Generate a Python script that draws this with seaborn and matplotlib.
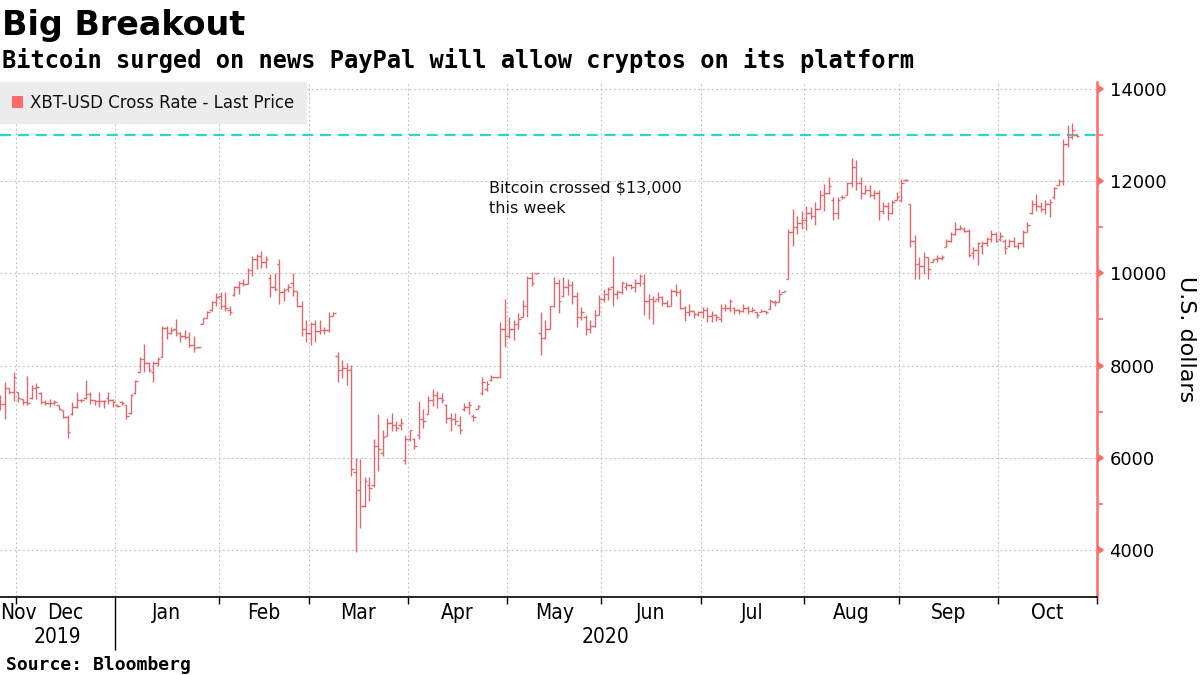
import numpy as np
import pandas as pd
import matplotlib.pyplot as plt
import seaborn as sns
from matplotlib.patches import Patch
from matplotlib.transforms import blended_transform_factory

# XBT-USD weekday bars (open / high / low / close), 2019-11-26 .. 2020-10-26
opens = [
    7150, 7170, 7520, 7430,  # Nov
    7420, 7280, 7200, 7300, 7520, 7400, 7200, 7180, 7190, 7140, 7030, 6880, 6950, 7100, 7250, 7300, 7380, 7250, 7230, 7230, 7300, 7250,  # Dec
    7150, 7200, 7140, 6960, 7400, 7870, 8150, 8050, 7850, 8050, 8180, 8820, 8700, 8800, 8700, 8640, 8620, 8450, 8400, 8910, 9040, 9200, 9380,  # Jan
    9500, 9300, 9200, 9520, 9700, 9780, 9760, 10080, 10300, 10380, 10250, 9900, 9700, 10200, 9600, 9650, 9800, 9620, 9300, 8800,  # Feb
    8700, 8900, 8750, 8760, 8780, 9080, 8200, 7900, 7950, 7900, 5700, 5300, 4950, 5400, 5400, 6250, 6100, 6480, 6750, 6700, 6700, 5950,  # Mar
    6400, 6400, 6500, 6850, 6950, 7250, 7350, 7300, 7150, 6870, 6850, 6700, 7050, 7100, 6900, 7050, 7400, 7500, 7680, 7740, 7750, 8800,  # Apr
    8650, 8800, 8900, 9050, 9300, 9900, 10000, 8700, 8600, 8800, 9300, 9800, 9500, 9700, 9750, 9500, 9050, 9050, 8800, 8850, 9100,  # May
    9450, 9550, 9700, 9550, 9600, 9700, 9750, 9700, 9800, 9800, 9400, 9450, 9450, 9480, 9350, 9300, 9620, 9600, 9250, 9150, 9180, 9120,  # Jun
    9150, 9200, 9080, 9100, 9000, 9250, 9250, 9250, 9200, 9180, 9250, 9180, 9150, 9150, 9180, 9220, 9380, 9380, 9600, 9880, 10900, 11000, 11100,  # Jul
    11150, 11300, 11250, 11400, 11700, 11750, 11600, 11300, 11650, 11700, 11950, 12300, 11950, 11750, 11800, 11700, 11750, 11350, 11450, 11300, 11600,  # Aug
    11600, 12020, 11500, 10700, 10200, 10150, 10350, 10250, 10300, 10330, 10570, 10700, 10850, 10950, 10950, 10920, 10450, 10500, 10600, 10650, 10750, 10850,  # Sep
    10750, 10700, 10600, 10700, 10600, 10650, 10900, 11300, 11500, 11450, 11400, 11500, 11650, 11920, 12000, 12800, 12950, 13000,  # Oct
]
highs = [
    7350, 7640, 7520, 7870,
    7430, 7280, 7770, 7570, 7630, 7430, 7250, 7280, 7250, 7140, 7030, 6920, 7210, 7430, 7280, 7680, 7430, 7250, 7430, 7250, 7430, 7280,
    7170, 7240, 7140, 7390, 7680, 8180, 8470, 8070, 8100, 8180, 8860, 8860, 8830, 9010, 8720, 8760, 8720, 8650, 8410, 9040, 9190, 9400, 9570,
    9585, 9600, 9300, 9730, 9835, 9870, 10120, 10370, 10410, 10480, 10370, 9980, 10010, 10300, 9690, 9760, 10010, 9620, 9400, 8980,
    8940, 8980, 8980, 8830, 9150, 9150, 8300, 8120, 8050, 8010, 6000, 5970, 5580, 5580, 6400, 6940, 6610, 6860, 6970, 6790, 6860, 6500,
    6610, 6430, 7240, 7050, 7330, 7480, 7440, 7400, 7170, 6970, 6970, 6900, 7190, 7230, 6940, 7150, 7760, 7660, 7800, 7760, 8950, 9450,
    9050, 8980, 9130, 9410, 9950, 10020, 10010, 9160, 8980, 9300, 9910, 9870, 9910, 9870, 9840, 9590, 9270, 9090, 8980, 9200, 9520,
    9660, 9700, 10380, 9630, 9840, 9810, 9770, 9880, 9990, 9990, 9550, 9510, 9590, 9510, 9410, 9660, 9770, 9660, 9300, 9330, 9190, 9190,
    9260, 9260, 9190, 9120, 9330, 9330, 9440, 9260, 9220, 9330, 9300, 9260, 9150, 9220, 9190, 9440, 9410, 9660, 9620, 10960, 11400, 11250, 11360,
    11470, 11430, 11540, 11800, 11940, 12090, 11650, 11650, 11690, 11980, 12490, 12450, 12090, 11910, 11910, 11800, 11800, 11540, 11540, 11580, 11760,
    12050, 12050, 11510, 10820, 10350, 10460, 10350, 10310, 10390, 10390, 10750, 10890, 11110, 11040, 11000, 10960, 10570, 10680, 10710, 10780, 10930, 10890,
    10890, 10750, 10750, 10780, 10680, 10930, 11110, 11580, 11720, 11540, 11580, 11620, 11870, 12050, 12920, 13210, 13250, 13030,
]
lows = [
    7030, 6850, 7390, 7240,
    7200, 7140, 7140, 7280, 7280, 7170, 7140, 7100, 7140, 7030, 6870, 6430, 6920, 7070, 7210, 7280, 7170, 7140, 7100, 7070, 7170, 7100,
    7100, 7150, 6850, 6950, 7390, 7850, 7860, 7850, 7650, 8000, 8180, 8580, 8690, 8650, 8500, 8580, 8400, 8290, 8390, 8900, 9040, 9190, 9300,
    9220, 9190, 9085, 9510, 9550, 9730, 9760, 9940, 10090, 10120, 10120, 9480, 9620, 9330, 9400, 9585, 9510, 9260, 8650, 8510,
    8440, 8510, 8690, 8690, 8730, 9080, 7650, 7720, 7580, 5610, 3960, 4470, 4930, 5070, 5360, 5720, 6040, 6470, 6580, 6580, 6610, 5860,
    6360, 6180, 6400, 6650, 6940, 7120, 7080, 7190, 6760, 6580, 6720, 6510, 7010, 6940, 6800, 7050, 7370, 7440, 7660, 7730, 7730, 8410,
    8590, 8550, 8800, 9050, 9050, 9730, 9990, 8230, 8580, 8800, 9270, 9130, 9480, 9520, 9340, 8840, 8980, 8660, 8700, 8840, 9090,
    9380, 9410, 9300, 9450, 9560, 9630, 9660, 9590, 9730, 9090, 9010, 8900, 9370, 9300, 9260, 9300, 9510, 9220, 8970, 9080, 9040, 9080,
    9040, 8940, 8940, 8970, 8940, 9190, 9150, 9120, 9120, 9150, 9120, 9150, 9040, 9150, 9120, 9220, 9300, 9370, 9590, 9880, 10600, 10850, 10960,
    10930, 11180, 11040, 11400, 11360, 11720, 11150, 11180, 11620, 11690, 11870, 11800, 11620, 11720, 11650, 11620, 11150, 11290, 11150, 11290, 11580,
    11540, 12010, 10570, 9880, 9880, 9990, 9880, 10240, 10240, 10280, 10570, 10670, 10820, 10930, 10890, 10350, 10310, 10170, 10420, 10600, 10670, 10670,
    10710, 10420, 10570, 10570, 10530, 10570, 10890, 11290, 11360, 11330, 11290, 11220, 11620, 11910, 11910, 12740, 12920, 12960,
]
closes = [
    7170, 7520, 7430, 7760,
    7300, 7200, 7180, 7520, 7530, 7200, 7180, 7180, 7200, 7050, 6880, 6560, 7100, 7250, 7260, 7380, 7250, 7230, 7230, 7230, 7250, 7200,
    7130, 7180, 6900, 7350, 7660, 8150, 8050, 7900, 8050, 8150, 8820, 8700, 8780, 8700, 8640, 8620, 8450, 8380, 8410, 9030, 9150, 9380, 9480,
    9300, 9250, 9150, 9700, 9780, 9760, 10080, 10300, 10380, 10250, 10300, 9700, 9650, 9600, 9640, 9700, 9620, 9300, 8800, 8700,
    8900, 8750, 8760, 8780, 9070, 9130, 7900, 7950, 7900, 5750, 5300, 4950, 5500, 5350, 6250, 6200, 6450, 6750, 6700, 6650, 6750, 6400,
    6600, 6250, 6850, 6800, 7250, 7350, 7300, 7250, 6870, 6850, 6800, 6600, 7100, 7150, 6880, 7120, 7650, 7600, 7760, 7750, 8800, 8650,
    8800, 8900, 9000, 9300, 9900, 9800, 10010, 8600, 8800, 9300, 9800, 9400, 9700, 9750, 9500, 9050, 9150, 8800, 8850, 9100, 9450,
    9550, 9650, 9550, 9600, 9800, 9750, 9700, 9800, 9950, 9400, 9450, 9400, 9480, 9350, 9300, 9620, 9600, 9250, 9150, 9180, 9120, 9150,
    9200, 9080, 9100, 9050, 9250, 9250, 9400, 9200, 9180, 9250, 9180, 9200, 9100, 9180, 9150, 9400, 9380, 9550, 9610, 10900, 11000, 11100, 11150,
    11300, 11250, 11400, 11700, 11750, 11900, 11300, 11600, 11660, 11950, 12300, 11950, 11750, 11800, 11700, 11750, 11350, 11450, 11300, 11550, 11650,
    11950, 12030, 10700, 10200, 10150, 10350, 10100, 10300, 10330, 10350, 10700, 10850, 10950, 10980, 10920, 10400, 10500, 10650, 10650, 10750, 10850, 10700,
    10800, 10550, 10700, 10600, 10650, 10900, 11050, 11500, 11450, 11400, 11500, 11550, 11850, 12000, 12800, 12950, 13100, 12980,
]

first_day = '2019-11-26'
axis_end = '2020-11-02'
threshold = 13000
y_major = [4000, 6000, 8000, 10000, 12000, 14000]
y_minor = [5000, 7000, 9000, 11000, 13000]
series_label = 'XBT-USD Cross Rate - Last Price'
note = 'Bitcoin crossed $13,000\nthis week'

sns.set_theme(style='white')
plt.rcParams['font.family'] = ['DejaVu Sans']
plt.rcParams['text.color'] = 'black'
plt.rcParams['axes.labelcolor'] = 'black'

df = pd.DataFrame({'open': opens, 'high': highs, 'low': lows, 'close': closes})
df['x'] = np.arange(len(df))

# trading-day calendar -> month boundaries on the x axis
cal = pd.bdate_range(first_day, axis_end)
mon = cal.to_period('M')
starts = [i for i in range(1, len(cal)) if mon[i] != mon[i - 1]]
bounds = [s - 0.5 for s in starts]
x_left, x_right = 0.0, bounds[-1]

bar_red = '#e0676b'
axis_red = '#ff6b6b'

fig = plt.figure(figsize=(12, 6.75), dpi=100)
ax = fig.add_axes([0.0, 0.1156, 0.9142, 0.763])

# OHLC bars
ax.vlines(df['x'], df['low'], df['high'], color=bar_red, lw=1.0, zorder=3)
ax.hlines(df['open'], df['x'] - 0.55, df['x'], color=bar_red, lw=1.0, zorder=3)
ax.hlines(df['close'], df['x'], df['x'] + 0.55, color=bar_red, lw=1.0, zorder=3)

ax.axhline(threshold, color='#2cd5cf', lw=1.6, ls=(0, (5, 3)), zorder=2)

ax.set_xlim(x_left, x_right)
ax.set_ylim(2980, 14150)
ax.set_xticks(bounds)
ax.set_xticklabels([])
ax.set_yticks(y_major)
ax.set_yticks(y_minor, minor=True)
ax.yaxis.tick_right()
ax.grid(True, which='major', color='#c8c8c8', ls=(0, (2, 2)), lw=0.8)
ax.set_axisbelow(True)

sns.despine(ax=ax, left=True, top=True, right=False, bottom=False)
ax.spines['right'].set_color(axis_red)
ax.spines['right'].set_linewidth(1.8)
ax.spines['bottom'].set_color('black')
ax.spines['bottom'].set_linewidth(1.2)

ax.tick_params(axis='x', which='major', bottom=True, direction='out', length=5, width=1, color='black')
ax.tick_params(axis='y', which='major', right=True, left=False, length=6, color=axis_red,
               labelsize=13, labelcolor='black', pad=3)
ax.tick_params(axis='y', which='minor', right=True, left=False, direction='out', length=4, width=1.2, color=axis_red)
for t in ax.yaxis.get_major_ticks():
    t.tick2line.set_marker(9)
    t.tick2line.set_markersize(6)

# long tick separating the years
for k, s in enumerate(starts):
    if cal[s].month == 1:
        jan_bound = bounds[k]
        t = ax.xaxis.get_major_ticks()[k]
        t.tick1line.set_markersize(38)
        t.tick1line.set_color('#555555')

ax.set_ylabel('U.S. dollars', rotation=270, fontsize=16, va='center', ha='center')
ax.yaxis.set_label_coords(1.081, 0.5)

# month / year labels
tr = blended_transform_factory(ax.transData, ax.transAxes)
edges = [x_left] + bounds
seg_months = [cal[0]] + [cal[s] for s in starts[:-1]]
for k, d in enumerate(seg_months):
    lo, hi = edges[k], edges[k + 1]
    if k == 0:
        ax.text(lo, -0.012, d.strftime('%b'), transform=tr, ha='left', va='top',
                fontsize=15, fontstretch='condensed', color='black')
    else:
        ax.text((lo + hi) / 2, -0.012, d.strftime('%b'), transform=tr, ha='center', va='top',
                fontsize=15, fontstretch='condensed', color='black')
ax.text((x_left + jan_bound) / 2, -0.058, '2019', transform=tr, ha='center', va='top',
        fontsize=15, fontstretch='condensed', color='black')
ax.text((jan_bound + x_right) / 2, -0.058, '2020', transform=tr, ha='center', va='top',
        fontsize=15, fontstretch='condensed', color='black')

# legend
handle = Patch(facecolor=axis_red, edgecolor='none')
leg = ax.legend([handle], [series_label], loc='upper left', bbox_to_anchor=(0, 1), borderaxespad=0,
                frameon=True, fancybox=False, facecolor='#ececec', edgecolor='#ececec', framealpha=1,
                fontsize=12, handlelength=0.7, handleheight=0.7, handletextpad=0.4, borderpad=0.7)
leg.set_zorder(5)
for txt in leg.get_texts():
    txt.set_color('#111111')

ax.text(108.5, 12010, note, fontsize=11.5, color='#111111', va='top', ha='left', linespacing=1.45)

fig.text(0.002, 0.948, 'Big Breakout', fontsize=24, fontweight='bold', va='baseline', ha='left', color='black')
fig.text(0.002, 0.899, 'Bitcoin surged on news PayPal will allow cryptos on its platform',
         family='DejaVu Sans Mono', fontsize=17, fontweight='bold', va='baseline', ha='left', color='black')
fig.text(0.005, 0.008, 'Source: Bloomberg', family='DejaVu Sans Mono', fontsize=13,
         fontweight='bold', va='baseline', ha='left', color='black')

fig.savefig('out.png', dpi=100)
